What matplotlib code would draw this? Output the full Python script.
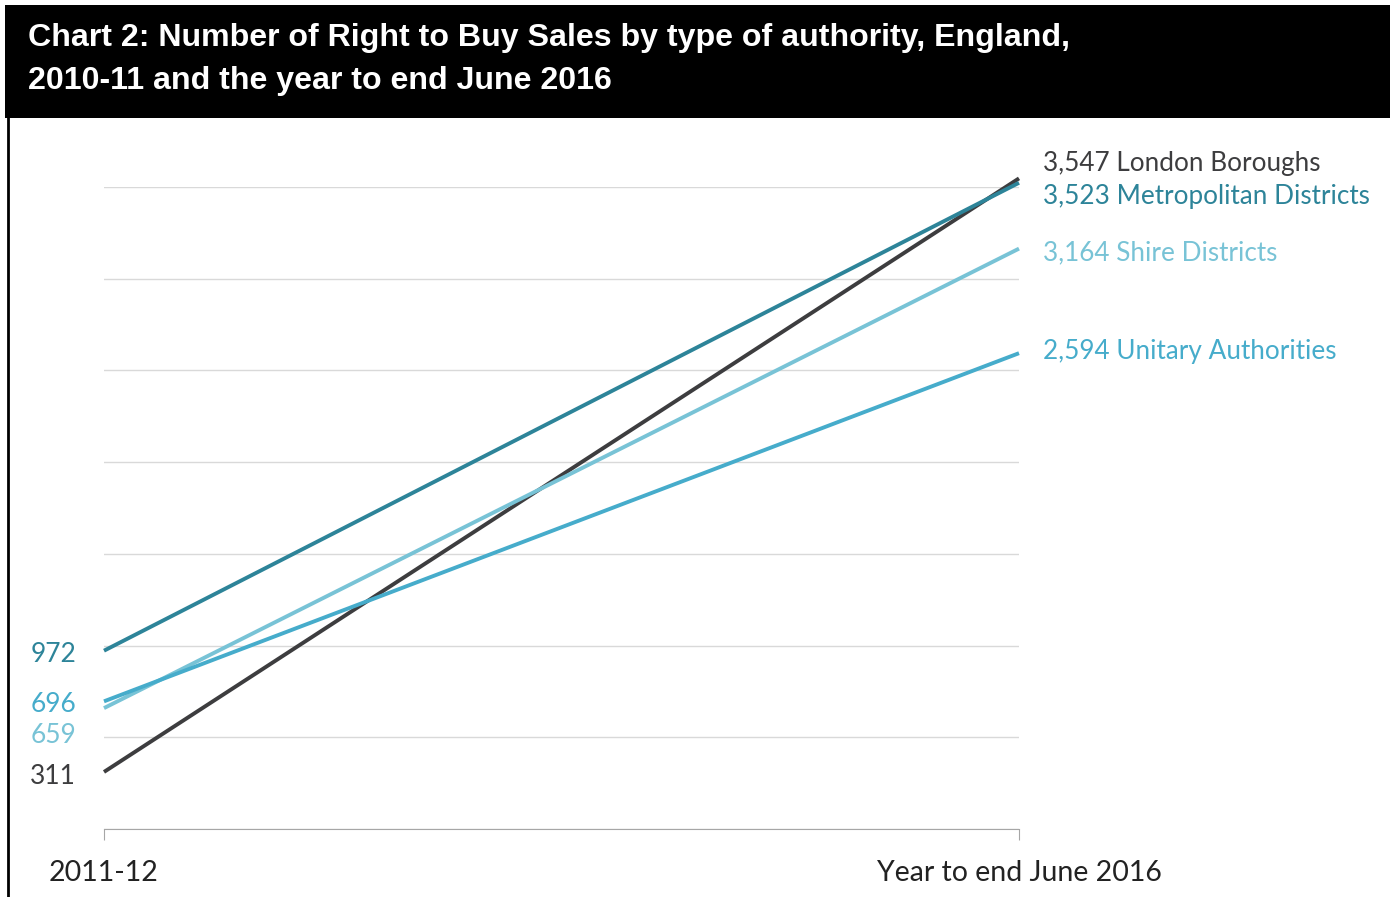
import matplotlib.pyplot as plt
from matplotlib.patches import Rectangle

# -------------------------
# DATA
# -------------------------
periods = ["2011-12", "Year to end June 2016"]
series = ["London Boroughs", "Metropolitan Districts", "Shire Districts", "Unitary Authorities"]
london = [311, 3547]
metro = [972, 3523]
shire = [659, 3164]
unitary = [696, 2594]

colors = {
    "London Boroughs": "#3d3d3f",
    "Metropolitan Districts": "#2d8499",
    "Shire Districts": "#78c3d6",
    "Unitary Authorities": "#46accb",
}
values = dict(zip(series, [london, metro, shire, unitary]))

plt.rcParams['font.family'] = ['Lato', 'DejaVu Sans']

fig = plt.figure(figsize=(13.9, 8.97), dpi=100)

# title band
fig.patches.append(Rectangle((5/1390, 1-118/897), 1, 113/897, transform=fig.transFigure,
                             facecolor="black", edgecolor="none"))
# left border line
fig.add_artist(plt.Line2D([8/1390, 8/1390], [0, 1-118/897], transform=fig.transFigure,
                          color="black", lw=2))
fig.text(28/1390, 1-38/897, "Chart 2: Number of Right to Buy Sales by type of authority, England,",
         color="white", fontsize=23.1, fontweight="bold", family="Liberation Sans", va="center")
fig.text(28/1390, 1-81/897, "2010-11 and the year to end June 2016",
         color="white", fontsize=23.1, fontweight="bold", family="Liberation Sans", va="center")

ax = fig.add_axes([104/1390, 1-829/897, (1019-104)/1390, (829-187)/897])
x = [0, 1]

for name in series:
    ax.plot(x, values[name], color=colors[name], lw=2.8, clip_on=False, solid_capstyle="butt")

# value labels (offsets in points)
left_nudge = {"London Boroughs": -3, "Metropolitan Districts": -3, "Shire Districts": -20, "Unitary Authorities": -2}
right_nudge = {"London Boroughs": 11, "Metropolitan Districts": -10, "Shire Districts": -3, "Unitary Authorities": 1}
for name in series:
    v = values[name]
    ax.annotate(f"{v[0]:,}", (0, v[0]), xytext=(-20, left_nudge[name]), textcoords="offset points",
                ha="right", va="center", fontsize=19, color=colors[name], annotation_clip=False)
    ax.annotate(f"{v[1]:,} {name}", (1, v[1]), xytext=(17, right_nudge[name]), textcoords="offset points",
                ha="left", va="center", fontsize=18.8, color=colors[name], annotation_clip=False)

ax.set_xlim(0, 1)
ax.set_ylim(0, 3500)
ax.set_yticks(range(0, 3501, 500))
ax.yaxis.grid(True, color="#d9d9d9", lw=1)
ax.set_axisbelow(True)
ax.tick_params(axis="y", left=False, labelleft=False)
ax.set_xticks(x)
ax.set_xticklabels(periods, fontsize=20.5, color="#222222")
ax.tick_params(axis="x", direction="out", length=8, color="#a6a6a6", pad=14)
for s in ["top", "right", "left"]:
    ax.spines[s].set_visible(False)
ax.spines["bottom"].set_color("#a6a6a6")

plt.savefig("out.png", dpi=100)
